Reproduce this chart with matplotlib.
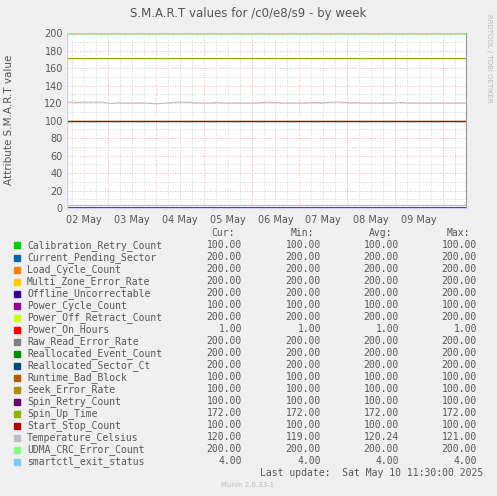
import numpy as np
import matplotlib
matplotlib.use("Agg")
import matplotlib.pyplot as plt
import matplotlib.dates as mdates
from datetime import datetime, timedelta

names = ["Calibration_Retry_Count", "Current_Pending_Sector", "Load_Cycle_Count",
         "Multi_Zone_Error_Rate", "Offline_Uncorrectable", "Power_Cycle_Count",
         "Power_Off_Retract_Count", "Power_On_Hours", "Raw_Read_Error_Rate",
         "Reallocated_Event_Count", "Reallocated_Sector_Ct", "Runtime_Bad_Block",
         "Seek_Error_Rate", "Spin_Retry_Count", "Spin_Up_Time", "Start_Stop_Count",
         "Temperature_Celsius", "UDMA_CRC_Error_Count", "smartctl_exit_status"]
colors = ["#00CC00", "#0066B3", "#FF8000", "#FFCC00", "#330099", "#990099",
          "#CCFF00", "#FF0000", "#808080", "#008F00", "#00487D", "#B35A00",
          "#B38F00", "#6B006B", "#8FB300", "#B30000", "#BEBEBE", "#80FF80", "#80C9FF"]
cur = [100, 200, 200, 200, 200, 100, 200, 1, 200, 200, 200, 100, 100, 100, 172, 100, 120, 200, 4]
mins = [100, 200, 200, 200, 200, 100, 200, 1, 200, 200, 200, 100, 100, 100, 172, 100, 119, 200, 4]
avgs = [100, 200, 200, 200, 200, 100, 200, 1, 200, 200, 200, 100, 100, 100, 172, 100, 120.24, 200, 4]
maxs = [100, 200, 200, 200, 200, 100, 200, 1, 200, 200, 200, 100, 100, 100, 172, 100, 121, 200, 4]

# temperature, one reading every 2.5 hours
temp = [121, 121, 120.5, 121, 121, 121, 121, 121, 120, 119.5, 120, 120, 120, 120, 120,
        120, 120, 119.5, 119, 119.5, 120, 120.5, 121, 121, 121, 120.5, 120, 120, 120,
        120, 120.5, 120, 120, 120, 120, 120, 120, 120, 120, 120.5, 121, 120.5, 120.5,
        120, 120, 120, 120, 120, 120, 120.5, 120.5, 120, 120.5, 121, 121, 121, 120.5,
        120, 120.5, 120, 120, 120, 120, 120, 120, 120, 120, 120.5, 120, 120, 120, 120,
        120, 120, 120, 120, 120, 120, 120, 120, 120]

end = datetime(2025, 5, 10, 11, 30)
start = end - timedelta(minutes=30 * 400)
t_temp = [start + (end - start) * i / (len(temp) - 1) for i in range(len(temp))]

W, H = 497, 496
fig = plt.figure(figsize=(W / 100, H / 100), dpi=100, facecolor="#f0f0f0")
ax = fig.add_axes([67 / W, 1 - 208 / H, 399 / W, 175 / H], facecolor="white")

for i, n in enumerate(names):
    if n == "Temperature_Celsius":
        ax.plot(t_temp, temp, color=colors[i], lw=0.8)
    else:
        ax.plot([start, end], [cur[i], cur[i]], color=colors[i], lw=0.8)

ax.set_xlim(start, end)
ax.set_ylim(0, 200)
ax.set_yticks(range(0, 201, 20))
ax.set_yticks(range(0, 201, 10), minor=True)
ax.xaxis.set_major_locator(mdates.DayLocator())
ax.xaxis.set_minor_locator(mdates.HourLocator(byhour=[6, 12, 18]))
ax.xaxis.set_major_formatter(plt.NullFormatter())
ax.grid(which="major", color="#ff9999", ls=(0, (1, 2)), lw=0.6)
ax.grid(which="minor", color="#cccccc", ls=(0, (1, 2)), lw=0.6)
ax.tick_params(which="both", length=0, labelsize=7, labelcolor="#555555", pad=3)
for s in ["top", "left"]:
    ax.spines[s].set_visible(False)
ax.spines["right"].set_color("#999999")
ax.spines["bottom"].set_color("#ccccff")
ax.axvline(start, color="#ccccff", lw=1)

# day labels at noon
d = datetime(2025, 5, 2, 12)
while d < end:
    ax.text(d, -8, d.strftime("%d %b"), ha="center", va="top", fontsize=7, color="#555555")
    d += timedelta(days=1)

fig.text(248 / W, 1 - 13 / H, "S.M.A.R.T values for /c0/e8/s9 - by week",
         ha="center", va="center", fontsize=8.5, color="#555555")
fig.text(9 / W, 1 - 120 / H, "Attribute S.M.A.R.T value", rotation=90,
         ha="center", va="center", fontsize=7.5, color="#555555")
fig.text(489 / W, 1 - 58 / H, "RRDTOOL / TOBI OETIKER", rotation=270,
         ha="center", va="center", fontsize=5, color="#bbbbbb")

mono = "DejaVu Sans Mono"
tc = "#555555"
fs = 7
cols = [242, 321, 399, 477]
for x, h in zip(cols, ["Cur:", "Min:", "Avg:", "Max:"]):
    fig.text((x - 7) / W, 1 - 233 / H, h, ha="right", va="center", fontsize=fs, family=mono, color=tc)
for i, n in enumerate(names):
    y = 1 - (245.5 + 12 * i) / H
    fig.patches.append(plt.Rectangle((14 / W, y - 3 / H), 6 / W, 6 / H,
                                     transform=fig.transFigure, color=colors[i]))
    fig.text(27 / W, y, n, ha="left", va="center", fontsize=fs, family=mono, color=tc)
    for x, v in zip(cols, [cur[i], mins[i], avgs[i], maxs[i]]):
        fig.text(x / W, y, "%.2f" % v, ha="right", va="center", fontsize=fs, family=mono, color=tc)
fig.text(483 / W, 1 - 473 / H, "Last update:  Sat May 10 11:30:00 2025",
         ha="right", va="center", fontsize=fs, family=mono, color=tc)
fig.text(248 / W, 1 - 485 / H, "Munin 2.0.33-1", ha="center", va="center",
         fontsize=5, color="#bbbbbb")

fig.savefig("out.png", dpi=100, facecolor=fig.get_facecolor())
